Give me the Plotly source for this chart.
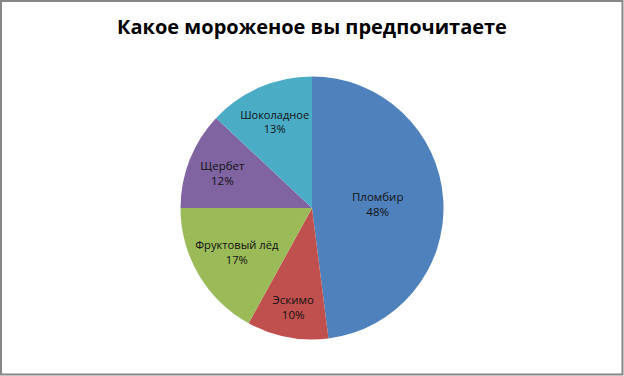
import plotly.graph_objects as go

categories = ["Пломбир", "Эскимо", "Фруктовый лёд", "Щербет", "Шоколадное"]
values = [48, 10, 17, 12, 13]
colors = ["#4F81BD", "#C0504D", "#9BBB59", "#8064A2", "#4BACC6"]
title_text = "Какое мороженое вы предпочитаете"

W, H = 624, 376
cx, cy, r = 312, 208, 131.5

fig = go.Figure(go.Pie(
    labels=categories,
    values=values,
    sort=False,
    direction="clockwise",
    rotation=0,
    marker=dict(colors=colors, line=dict(width=0)),
    textposition="inside",
    insidetextorientation="horizontal",
    texttemplate="%{label}<br>%{percent:.0%}",
    textfont=dict(family="Open Sans, Liberation Sans, sans-serif", size=11.5, color="#111111"),
    showlegend=False,
    domain=dict(x=[(cx - r) / W, (cx + r) / W], y=[(H - cy - r) / H, (H - cy + r) / H]),
))

fig.update_layout(
    width=W, height=H,
    margin=dict(l=0, r=0, t=0, b=0),
    paper_bgcolor="white",
    plot_bgcolor="white",
    title=dict(text=f"<b>{title_text}</b>", x=0.5, xanchor="center", y=1 - 27 / H, yanchor="middle",
               font=dict(family="Open Sans, Liberation Sans, sans-serif", size=20, color="black")),
    shapes=[dict(type="rect", xref="paper", yref="paper",
                 x0=1 / W, y0=1.5 / H, x1=1 - 1.5 / W, y1=1 - 1 / H,
                 line=dict(color="#868686", width=2))],
)

fig.write_html("out.html", config={"displayModeBar": False},
               post_script="document.body.style.margin='0';document.body.style.overflow='hidden';")
